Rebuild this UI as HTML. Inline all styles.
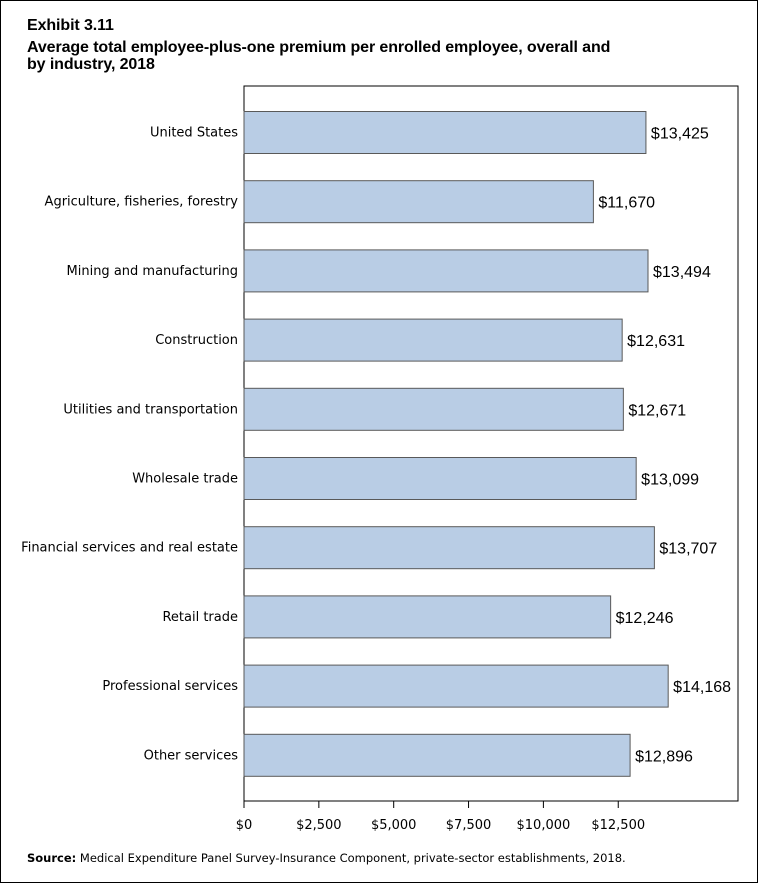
<!DOCTYPE html>
<html><head><meta charset="utf-8"><style>
body{margin:0;background:#fff;font-family:"Liberation Sans",Arial,sans-serif}
#wrap{position:relative;width:756px;height:881px;border:1px solid #000;overflow:hidden}
.t{position:absolute;left:26px;font-weight:bold;font-size:16px;line-height:17px;color:#000;letter-spacing:-0.1px}
</style></head><body>
<div id="wrap">
<div class="t" style="top:16px">Exhibit 3.11</div>
<div class="t" style="top:38px">Average total employee-plus-one premium per enrolled employee, overall and<br>by industry, 2018</div>
<svg id="chart" width="758" height="883" style="position:absolute;left:-1px;top:-1px"></svg>
<div style="position:absolute;left:26px;top:850px;font-size:11.5px;font-family:'DejaVu Sans',sans-serif;color:#000"><b>Source:</b> Medical Expenditure Panel Survey-Insurance Component, private-sector establishments, 2018.</div>
</div>
<script>
const categories=["United States","Agriculture, fisheries, forestry","Mining and manufacturing","Construction","Utilities and transportation","Wholesale trade","Financial services and real estate","Retail trade","Professional services","Other services"];
const values=[13425,11670,13494,12631,12671,13099,13707,12246,14168,12896];
const valueLabels=["$13,425","$11,670","$13,494","$12,631","$12,671","$13,099","$13,707","$12,246","$14,168","$12,896"];
const ticks=[0,2500,5000,7500,10000,12500];
const tickLabels=["$0","$2,500","$5,000","$7,500","$10,000","$12,500"];
const xMax=16500;
const L=244,R=738,T=86,B=801;
const svg=document.getElementById('chart');
const NS='http://www.w3.org/2000/svg';
function x(v){return L+(R-L)*v/xMax;}
function yc(i){return 132.5+i*69.2;}
function mk(tag,a){const e=document.createElementNS(NS,tag);for(const k in a)e.setAttribute(k,a[k]);svg.appendChild(e);return e;}
const frame=mk('rect',{x:L,y:T,width:R-L,height:B-T,fill:'none',stroke:'#000','stroke-width':1});


categories.forEach((c,i)=>{
  const r=mk('rect',{x:L,y:yc(i)-21,width:x(values[i])-L,height:42,fill:'#b9cde5',stroke:'#595959','stroke-width':1});
  
  
  const l=mk('text',{x:L-6,y:yc(i)+4,'text-anchor':'end','font-size':13,'font-family':'DejaVu Sans, sans-serif',fill:'#000'});
  l.textContent=c;
  
  
  const v=mk('text',{x:x(values[i])+5,y:yc(i)+6,'font-size':16,'font-family':'Liberation Sans, Arial, sans-serif',fill:'#000'});
  v.textContent=valueLabels[i];
  
  
});
ticks.forEach((t,i)=>{
  const tk=mk('line',{x1:x(t),x2:x(t),y1:B,y2:B+7,stroke:'#000'});
  
  
  const tl=mk('text',{x:x(t),y:829,'text-anchor':'middle','font-size':13,'font-family':'DejaVu Sans, sans-serif',fill:'#000'});
  tl.textContent=tickLabels[i];
  
  
});
</script>
</body></html>
